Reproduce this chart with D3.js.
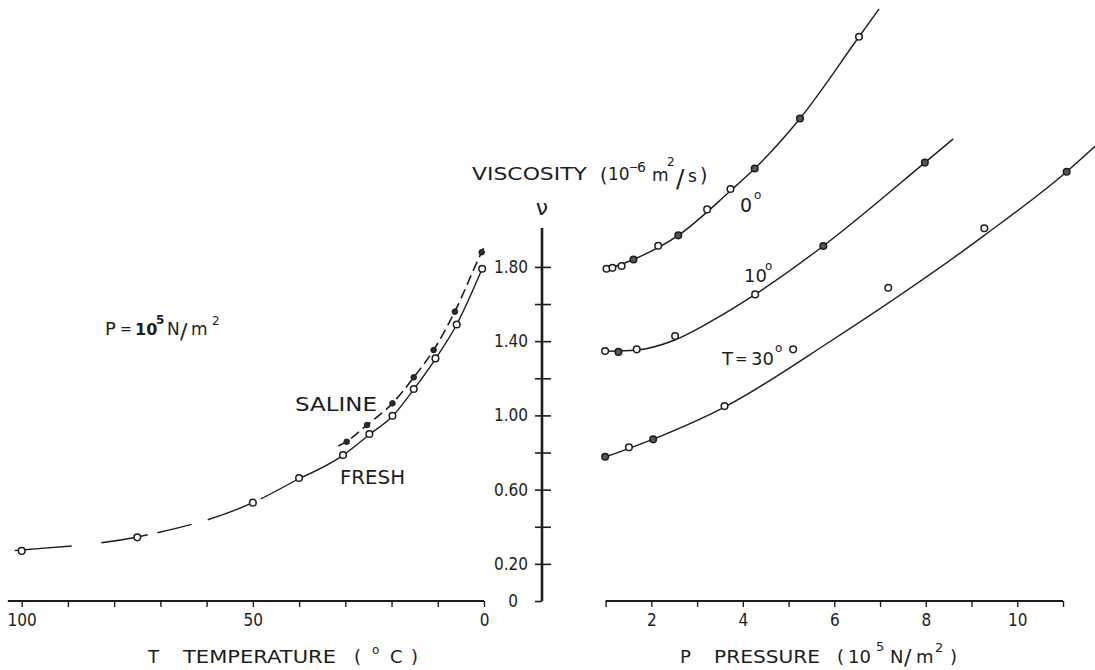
<!DOCTYPE html>
<html><head><meta charset="utf-8">
<script src="https://cdn.jsdelivr.net/npm/d3@7"></script>
<style>
body{margin:0;background:#fff;}
svg{display:block;font-family:"DejaVu Sans Condensed","DejaVu Sans",sans-serif;}
</style></head><body>
<svg id="c" width="1095" height="670"></svg>
<script>
// ---------- DATA ----------
// Left panel: viscosity vs temperature at P = 1e5 N/m2
const freshT = [100, 75, 50, 40, 30.5, 24.8, 19.8, 15.2, 10.5, 5.9, 0.4];
const freshV = [0.27, 0.343, 0.53, 0.663, 0.787, 0.90, 0.998, 1.142, 1.307, 1.49, 1.79];
const salineT = [29.7, 25.3, 19.8, 15.2, 10.9, 6.3, 0.5];
const salineV = [0.858, 0.948, 1.065, 1.205, 1.352, 1.559, 1.879];
// fitted curves
const freshFitDashT = [101.5, 100, 75, 50, 40];
const freshFitDashV = [0.272, 0.275, 0.345, 0.53, 0.66];
const freshFitSolidT = [40, 30.5, 24.8, 19.8, 15.2, 10.5, 5.9, 0.4];
const freshFitSolidV = [0.66, 0.785, 0.897, 0.995, 1.14, 1.305, 1.49, 1.79];
const salineFitT = [31.5, 29.7, 25.3, 19.8, 15.2, 10.9, 6.3, 0.5, -0.1];
const salineFitV = [0.835, 0.86, 0.948, 1.065, 1.205, 1.352, 1.56, 1.88, 1.91];

// Right panel: viscosity vs pressure
const p0P = [1.02, 1.15, 1.35, 1.61, 2.15, 2.59, 3.22, 3.73, 4.26, 5.25, 6.54];
const p0V = [1.79, 1.795, 1.805, 1.84, 1.914, 1.97, 2.11, 2.22, 2.33, 2.60, 3.04];
const p0Filled = [0, 0, 0, 1, 0, 1, 0, 0, 1, 1, 0];
const fit0P = [1.0, 1.61, 2.59, 3.73, 4.26, 5.25, 6.54, 6.98];
const fit0V = [1.785, 1.84, 1.97, 2.21, 2.33, 2.60, 3.04, 3.19];

const p10P = [0.99, 1.28, 1.68, 2.52, 4.27, 5.76, 7.98];
const p10V = [1.347, 1.342, 1.356, 1.428, 1.652, 1.913, 2.362];
const p10Filled = [0, 1, 0, 0, 0, 1, 1];
const fit10P = [0.99, 1.68, 2.5, 3.4, 4.27, 5.76, 7.98, 8.6];
const fit10V = [1.345, 1.352, 1.405, 1.52, 1.652, 1.913, 2.362, 2.49];

const p30P = [0.99, 1.51, 2.04, 3.60, 5.10, 7.18, 9.28, 11.08];
const p30V = [0.777, 0.828, 0.871, 1.05, 1.356, 1.688, 2.008, 2.313];
const p30Filled = [1, 0, 1, 0, 0, 0, 0, 1];
const fit30P = [0.99, 2.04, 3.6, 5.9, 9.28, 11.08, 11.7];
const fit30V = [0.775, 0.872, 1.045, 1.397, 1.97, 2.313, 2.45];

// axes ticks / labels
const yTicks = [0, 0.2, 0.4, 0.6, 0.8, 1.0, 1.2, 1.4, 1.6, 1.8];
const yLabelVals = [0, 0.2, 0.6, 1.0, 1.4, 1.8];
const yLabelText = ["0", "0.20", "0.60", "1.00", "1.40", "1.80"];
const tTicks = [100, 90, 80, 70, 60, 50, 40, 30, 20, 10, 0];
const tLabelVals = [100, 50, 0];
const pTicks = [1, 2, 3, 4, 5, 6, 7, 8, 9, 10, 11];
const pLabelVals = [2, 4, 6, 8, 10];

// ---------- DRAW ----------
const svg = d3.select("#c");
const ink = "#1c1c1c";
const FONT = '"DejaVu Sans","DejaVu Sans Condensed",sans-serif';
const CFONT = '"DejaVu Sans Condensed","DejaVu Sans",sans-serif';
const yV = d3.scaleLinear().domain([0, 2]).range([601, 229.8]);
const xT = d3.scaleLinear().domain([100, 0]).range([21.7, 484]);
const xP = d3.scaleLinear().domain([1, 11]).range([605.6, 1063]);

// vertical (viscosity) axis
const yg = svg.append("g").attr("transform", "translate(542,0)")
  .call(d3.axisLeft(yV).tickValues(yTicks).tickSize(7).tickPadding(7)
    .tickFormat(d => { const i = yLabelVals.indexOf(d); return i >= 0 ? yLabelText[i] : ""; }));
yg.select(".domain").remove();
yg.selectAll(".tick line").attr("x1", d => d === 0 ? 0 : 9).attr("stroke", ink).attr("stroke-width", 1.6);
yg.selectAll(".tick text").attr("font-size", 17).attr("fill", ink).attr("font-family", CFONT)
  .attr("dx", d => d === 0 ? -10 : 0);
yg.append("line").attr("x1", 0).attr("x2", 0).attr("y1", yV(0)).attr("y2", yV(2.01))
  .attr("stroke", ink).attr("stroke-width", 2.6);

// temperature axis
const tg = svg.append("g").attr("transform", "translate(0,601)")
  .call(d3.axisBottom(xT).tickValues(tTicks).tickSize(6).tickPadding(7)
    .tickFormat(d => tLabelVals.includes(d) ? String(d) : ""));
tg.select(".domain").remove();
tg.selectAll(".tick line").attr("stroke", ink).attr("stroke-width", 1.4);
tg.selectAll(".tick text").attr("font-size", 17).attr("fill", ink).attr("font-family", CFONT);
tg.append("line").attr("x1", xT(103)).attr("x2", xT(0)).attr("y1", 0).attr("y2", 0)
  .attr("stroke", ink).attr("stroke-width", 1.8);

// pressure axis
const pg = svg.append("g").attr("transform", "translate(0,601)")
  .call(d3.axisBottom(xP).tickValues(pTicks).tickSize(6).tickPadding(7)
    .tickFormat(d => pLabelVals.includes(d) ? String(d) : ""));
pg.select(".domain").remove();
pg.selectAll(".tick line").attr("stroke", ink).attr("stroke-width", 1.4);
pg.selectAll(".tick text").attr("font-size", 17).attr("fill", ink).attr("font-family", CFONT);
pg.append("line").attr("x1", xP(1)).attr("x2", xP(11)).attr("y1", 0).attr("y2", 0)
  .attr("stroke", ink).attr("stroke-width", 1.8);

// curves
const zip = (a, b) => a.map((v, i) => [v, b[i]]);
const lineT = d3.line().x(d => xT(d[0])).y(d => yV(d[1])).curve(d3.curveMonotoneX);
const lineP = d3.line().x(d => xP(d[0])).y(d => yV(d[1])).curve(d3.curveMonotoneX);
const curves = svg.append("g").attr("fill", "none").attr("stroke", ink).attr("stroke-width", 1.4);
curves.append("path").attr("d", lineT(zip(freshFitDashT, freshFitDashV)))
  .attr("stroke-dasharray", "57,30,47,10,35,17,48,9,60");
curves.append("path").attr("d", lineT(zip(freshFitSolidT, freshFitSolidV)));
curves.append("path").attr("d", lineT(zip(salineFitT, salineFitV))).attr("stroke-dasharray", "10,5").attr("stroke-width", 1.6);
curves.append("path").attr("d", lineP(zip(fit0P, fit0V)));
curves.append("path").attr("d", lineP(zip(fit10P, fit10V)));
curves.append("path").attr("d", lineP(zip(fit30P, fit30V)));

// markers
const mk = svg.append("g");
mk.selectAll("circle.fresh").data(zip(freshT, freshV)).join("circle")
  .attr("cx", d => xT(d[0])).attr("cy", d => yV(d[1])).attr("r", 3.3)
  .attr("fill", "#fff").attr("stroke", ink).attr("stroke-width", 1.5);
mk.selectAll("circle.sal").data(zip(salineT, salineV)).join("circle")
  .attr("cx", d => xT(d[0])).attr("cy", d => yV(d[1])).attr("r", 2.8)
  .attr("fill", "#2a2a2a").attr("stroke", ink).attr("stroke-width", 1);
function pts(P, V, F) {
  mk.append("g").selectAll("circle").data(P.map((p, i) => [p, V[i], F[i]])).join("circle")
    .attr("cx", d => xP(d[0])).attr("cy", d => yV(d[1])).attr("r", 3.3)
    .attr("fill", d => d[2] ? "#555" : "#fff").attr("stroke", ink).attr("stroke-width", 1.5);
}
pts(p0P, p0V, p0Filled);
pts(p10P, p10V, p10Filled);
pts(p30P, p30V, p30Filled);

// ---------- TEXT ----------
function txt(x, y, s, size, opts = {}) {
  const t = svg.append("text").attr("x", x).attr("y", y).attr("font-size", size)
    .attr("fill", ink).attr("font-family", opts.family || FONT).text(s);
  if (opts.len) t.attr("textLength", opts.len).attr("lengthAdjust", "spacingAndGlyphs");
  if (opts.anchor) t.attr("text-anchor", opts.anchor);
  if (opts.weight) t.attr("font-weight", opts.weight);
  return t;
}
// one text element made of positioned pieces
function rich(parts) {
  const t = svg.append("text").attr("fill", ink).attr("font-family", FONT);
  parts.forEach(p => {
    const s = t.append("tspan").attr("x", p[0]).attr("y", p[1]).attr("font-size", p[3]).text(p[2]);
    if (p[4]) s.attr("font-weight", p[4]);
  });
  return t;
}

// axis titles
txt(148, 663, "T", 18);
txt(183, 663, "TEMPERATURE", 18, { len: 153 });
rich([[354, 663, "(", 18], [372, 654, "o", 12], [390, 663, "C", 18], [411, 663, ")", 18]]);

txt(680, 663, "P", 18);
txt(714, 663, "PRESSURE", 18, { len: 106 });
rich([[837, 663, "(", 18], [848, 663, "10", 18], [876, 651, "5", 13], [890, 663, "N", 18],
      [904, 665, "/", 22], [916, 663, "m", 18], [935, 652, "2", 13], [950, 663, ")", 18]]);

// viscosity title
txt(472, 180, "VISCOSITY", 17.5, { len: 115 });
rich([[600, 182, "(", 19], [608, 180, "10", 17], [629, 171, "\u2212", 11], [637, 172, "6", 14],
      [652, 181, "m", 17], [667, 166, "2", 12], [676, 187, "/", 25], [688, 182, "s", 17], [700, 182, ")", 19]]);
txt(542, 215, "\u03bd", 22, { anchor: "middle" });

// left annotations
rich([[105, 335, "P", 18], [120, 334, "=", 14], [135, 335, "10", 16, "bold"], [156, 324, "5", 12, "bold"],
      [167, 335, "N", 17], [180, 339, "/", 22], [191, 335, "m", 17], [212, 325, "2", 12]]);
txt(295, 411, "SALINE", 20, { len: 82 });
txt(340, 484, "FRESH", 20, { len: 65 });

// right annotations
rich([[740, 212, "0", 19], [754, 199, "o", 12]]);
rich([[744, 282, "10", 18], [765, 270, "o", 12]]);
rich([[722, 365, "T", 18], [735, 364, "=", 15], [751, 365, "30", 18], [775, 352, "o", 12]]);
</script>
</body></html>
